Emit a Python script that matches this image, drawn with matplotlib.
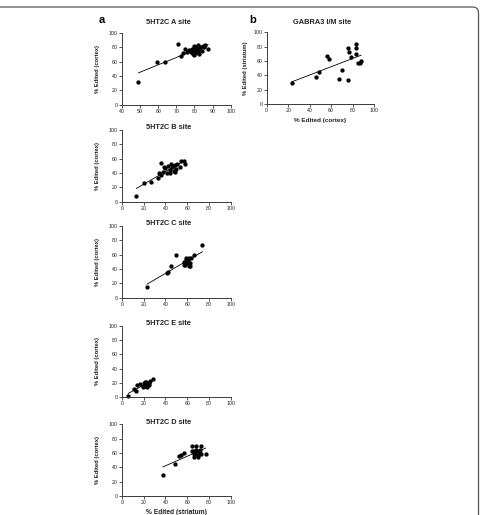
import numpy as np
import matplotlib
matplotlib.use("Agg")
import matplotlib.pyplot as plt
from matplotlib.patches import FancyBboxPatch

plt.rcParams['font.family'] = ['Liberation Sans', 'DejaVu Sans']

# ---------------- data ----------------
a_x = [49, 59.5, 64, 71, 72.5, 73.5, 75, 76, 77, 78, 78.5, 79, 79.5, 80, 80, 80.5, 81, 81,
       81.5, 82, 82, 82.5, 83, 83, 84, 84.5, 85, 86, 87.5, 80, 78, 82]
a_y = [32, 59, 59, 84, 68, 72, 78, 74, 76, 73, 77, 70, 79, 75, 82, 72, 77, 80,
       74, 76, 83, 71, 78, 81, 75, 82, 80, 83, 77, 69, 75, 73]

b_x = [13.2, 20.3, 26.5, 35.7, 33, 34, 35.7, 37.8, 38.8, 40, 41.5, 42.5, 44, 45, 46, 47,
       47.7, 48.6, 50, 51, 53, 54, 57, 58, 44, 49]
b_y = [7.8, 26, 27.4, 54, 33, 40, 37, 41, 49, 47, 40, 50, 44, 52.5, 48, 50,
       43, 51.5, 46, 53, 49, 56, 56, 53, 40.5, 42]

c_x = [23, 41.5, 42, 45, 49.7, 57, 57.3, 58.5, 59.7, 60.3, 61.2, 62, 62.7, 59, 61, 63.3,
       62.7, 66, 74, 58]
c_y = [14.4, 35, 36, 44.4, 59, 50, 46, 54.6, 47.7, 52, 44.4, 54.6, 49, 52, 50, 54.6,
       44.4, 59, 73, 45]

e_x = [5.8, 10.8, 13.2, 14, 17, 19.4, 20.3, 21.5, 22.5, 23.4, 24.6, 25.5, 21.5, 20.3,
       28.6, 23, 24.9]
e_y = [2.3, 11, 9, 17, 18, 15, 19.4, 16, 21.7, 18, 20, 23, 21.7, 16, 26, 15, 17]

d_x = [37.6, 48.5, 52.7, 54, 57, 64, 68, 73, 64, 65.8, 67, 68, 69, 69.4, 70.3, 71, 71.8,
       66.4, 69.5, 73, 77, 66, 72]
d_y = [29, 44, 56.4, 57, 59.6, 69, 69, 69, 63, 58.7, 61, 64, 58.7, 62, 57, 61, 64,
       55, 55, 58.7, 57.8, 62, 60]

g_x = [23.3, 45.6, 48.4, 56.5, 58, 67.7, 70.5, 75.8, 77, 78.9, 75.8, 82.9, 83.2, 83.2,
       85.4, 87, 87.9]
g_y = [29, 37.5, 45, 67, 63, 35, 47.7, 78.7, 72, 65, 34, 84, 78.7, 70, 57, 58, 60.6]

left_titles = ["5HT2C A site", "5HT2C B site", "5HT2C C site", "5HT2C E site", "5HT2C D site"]
left_data = [(a_x, a_y), (b_x, b_y), (c_x, c_y), (e_x, e_y), (d_x, d_y)]
left_xlims = [(40, 100), (0, 100), (0, 100), (0, 100), (0, 100)]
left_xticks = [list(range(40, 101, 10))] + [list(range(0, 101, 20))] * 4
yticks = list(range(0, 101, 20))

# ---------------- figure ----------------
W, H = 480, 515
fig = plt.figure(figsize=(W / 100, H / 100), dpi=100)

def rect(x0, x1, ytop, ybot):
    return [x0 / W, 1 - ybot / H, (x1 - x0) / W, (ybot - ytop) / H]

spine_col = '#3a3a3a'
tick_fs = 3.8

def style(ax, xlim, xticks):
    ax.set_xlim(*xlim)
    ax.set_ylim(0, 100)
    ax.set_xticks(xticks)
    ax.set_yticks(yticks)
    for s in ['top', 'right']:
        ax.spines[s].set_visible(False)
    for s in ['left', 'bottom']:
        ax.spines[s].set_color(spine_col)
        ax.spines[s].set_linewidth(0.7)
    ax.tick_params(axis='both', length=2, width=0.6, color=spine_col,
                   labelsize=tick_fs, pad=1, labelcolor='#222222')
    ax.patch.set_alpha(0)

def draw(ax, x, y):
    x = np.asarray(x, float)
    y = np.asarray(y, float)
    ax.plot(x, y, 'o', color='black', markersize=3.1, markeredgewidth=0, clip_on=False)
    k, b = np.polyfit(x, y, 1)
    xs = np.array([x.min(), x.max()])
    ax.plot(xs, k * xs + b, color='black', linewidth=0.6)

bottoms = [104.7, 201.7, 297.7, 397.3, 496.0]
for i, (title, (x, y)) in enumerate(zip(left_titles, left_data)):
    ax = fig.add_axes(rect(122, 230.7, bottoms[i] - 71.8, bottoms[i]))
    style(ax, left_xlims[i], left_xticks[i])
    draw(ax, x, y)
    ax.set_ylabel("% Edited (cortex)", fontsize=4.2, fontweight='bold', labelpad=6,
                  color='#222222')
    ty = 1.14 if i == 0 else 1.03
    ax.text(0.43, ty, title, transform=ax.transAxes, ha='center', va='center',
            fontsize=5.3, fontweight='bold', color='#222222')
    if i == 4:
        ax.set_xlabel("% Edited (striatum)", fontsize=4.8, fontweight='bold', labelpad=2.5,
                      color='#222222')

axb = fig.add_axes(rect(266.7, 374, 32.3, 104.3))
style(axb, (0, 100), list(range(0, 101, 20)))
draw(axb, g_x, g_y)
axb.set_ylabel("% Edited (striatum)", fontsize=4.2, fontweight='bold', labelpad=4,
               color='#222222')
axb.set_xlabel("% Edited (cortex)", fontsize=4.6, fontweight='bold', labelpad=3,
               color='#222222')
axb.text(0.52, 1.14, "GABRA3 I/M site", transform=axb.transAxes, ha='center',
         va='center', fontsize=5.3, fontweight='bold', color='#222222')

fig.text(102 / W, 1 - 20 / H, "a", fontsize=8, fontweight='bold', ha='center', va='center')
fig.text(253 / W, 1 - 20 / H, "b", fontsize=8, fontweight='bold', ha='center', va='center')

# outer frame (top and right edges with a rounded corner)
frame = FancyBboxPatch((-20 / W, -20 / H), (478.5 + 20) / W, (508 + 20) / H,
                       boxstyle="round,pad=0,rounding_size=0.012",
                       transform=fig.transFigure, fill=False, edgecolor='#555555',
                       linewidth=0.9)
fig.patches.append(frame)

fig.savefig("out.png", dpi=100)
